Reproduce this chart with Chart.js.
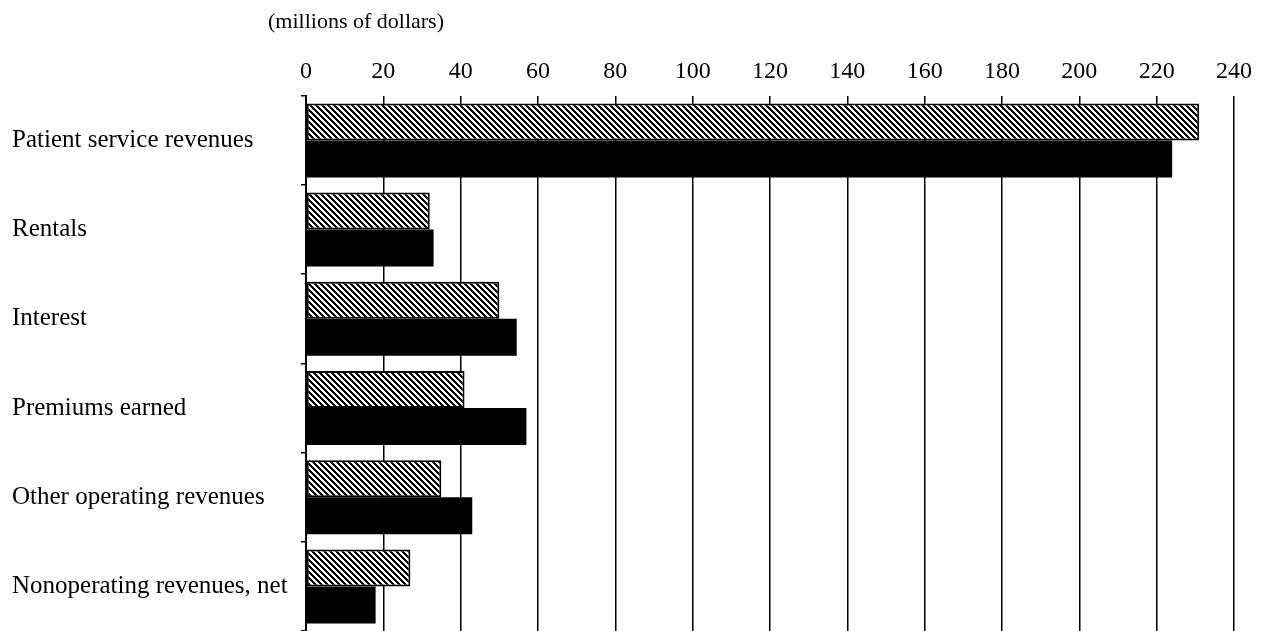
<!DOCTYPE html>
<html>
<head>
<meta charset="utf-8">
<script src="https://cdn.jsdelivr.net/npm/chart.js@4"></script>
<style>
  html, body { margin: 0; padding: 0; background: #fff; }
  #wrap { width: 1262px; height: 631px; }
</style>
</head>
<body>
<div id="wrap"><canvas id="c" width="1262" height="631"></canvas></div>
<script>
const categories = [
  "Patient service revenues",
  "Rentals",
  "Interest",
  "Premiums earned",
  "Other operating revenues",
  "Nonoperating revenues, net"
];
const hatchedValues = [231, 32, 50, 41, 35, 27];
const solidValues = [224, 33, 54.5, 57, 43, 18];
const xTickValues = [0, 20, 40, 60, 80, 100, 120, 140, 160, 180, 200, 220, 240];
const axisTitle = "(millions of dollars)";

function makeHatch() {
  const s = 6, w = 3;
  const cv = document.createElement('canvas');
  cv.width = s; cv.height = s;
  const cx = cv.getContext('2d');
  const img = cx.createImageData(s, s);
  for (let y = 0; y < s; y++) {
    for (let x = 0; x < s; x++) {
      const k = (((x - y) % s) + s) % s;
      const i = (y * s + x) * 4;
      const v = k < w ? 0 : 255;
      img.data[i] = v; img.data[i + 1] = v; img.data[i + 2] = v; img.data[i + 3] = 255;
    }
  }
  cx.putImageData(img, 0, 0);
  return document.getElementById('c').getContext('2d').createPattern(cv, 'repeat');
}

const serif = "'Liberation Serif', 'Times New Roman', serif";

const titlePlugin = {
  id: 'unitTitle',
  afterDraw(chart) {
    const ctx = chart.ctx;
    ctx.save();
    ctx.font = "22px " + serif;
    ctx.fillStyle = '#000';
    ctx.textAlign = 'left';
    ctx.textBaseline = 'middle';
    ctx.fillText(axisTitle, chart.chartArea.left - 38, 22);
    ctx.restore();
  }
};

new Chart(document.getElementById('c'), {
  type: 'bar',
  data: {
    labels: categories,
    datasets: [
      {
        label: 'Hatched',
        data: hatchedValues,
        backgroundColor: makeHatch(),
        borderColor: '#000',
        borderWidth: 2,
        borderSkipped: false,
        categoryPercentage: 0.83,
        barPercentage: 1.0
      },
      {
        label: 'Solid',
        data: solidValues,
        backgroundColor: '#000',
        borderColor: '#000',
        borderWidth: 0,
        categoryPercentage: 0.83,
        barPercentage: 1.0
      }
    ]
  },
  options: {
    indexAxis: 'y',
    responsive: false,
    animation: false,
    layout: { padding: { left: 12, right: 20, top: 47, bottom: 0 } },
    plugins: {
      legend: { display: false },
      tooltip: { enabled: false }
    },
    scales: {
      x: {
        position: 'top',
        min: 0,
        max: 240,
        afterBuildTicks(scale) { scale.ticks = xTickValues.map(v => ({ value: v })); },
        grid: { color: '#000', lineWidth: 1.5, drawTicks: false },
        border: { display: false },
        ticks: {
          color: '#000',
          font: { family: serif, size: 24 },
          padding: 10,
          maxRotation: 0,
          autoSkip: false
        }
      },
      y: {
        afterFit(scale) { scale.width = 294; scale.paddingTop = 0; scale.paddingBottom = 0; },
        grid: { drawOnChartArea: false, drawTicks: true, tickLength: 5, color: '#000', lineWidth: 1.5 },
        border: { display: true, color: '#000', width: 2 },
        ticks: {
          color: '#000',
          crossAlign: 'far',
          font: { family: serif, size: 25 }
        }
      }
    }
  },
  plugins: [titlePlugin]
});
</script>
</body>
</html>
